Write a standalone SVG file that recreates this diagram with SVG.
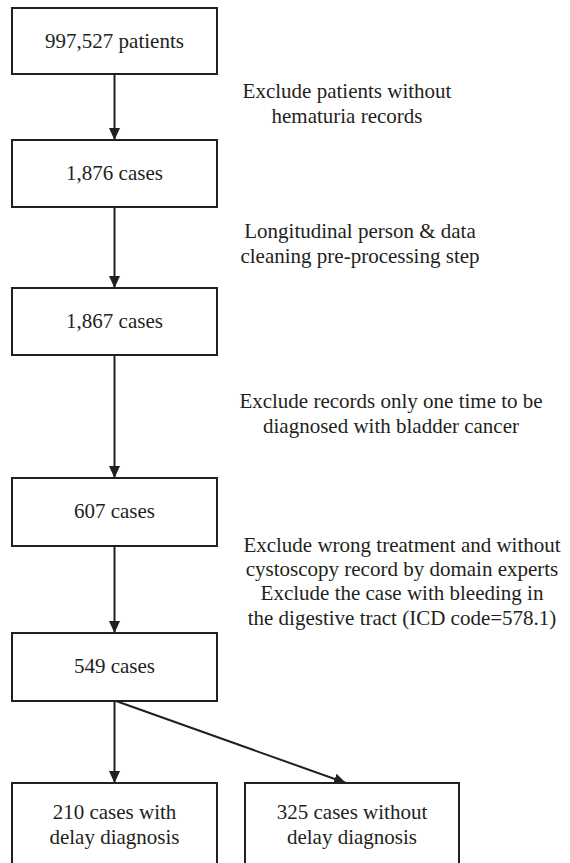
<svg xmlns="http://www.w3.org/2000/svg" width="570" height="863" viewBox="0 0 570 863">
<style>
.box{fill:#fff;stroke:#231f20;stroke-width:2}
.t{font-family:"Liberation Serif","Times New Roman",serif;font-size:21px;fill:#231f20;text-anchor:middle}
.c{stroke:#231f20;stroke-width:2;fill:none}
</style>
<defs>
<marker id="ah" markerWidth="12" markerHeight="13" viewBox="0 0 13 12" refX="13" refY="6" orient="auto" markerUnits="userSpaceOnUse">
<path d="M0,0 L13,6 L0,12 Z" fill="#231f20"/>
</marker>
</defs>
<rect width="570" height="863" fill="#fff"/>
<g id="connectors">
<line class="c" x1="114.5" y1="74" x2="114.5" y2="140" marker-end="url(#ah)"/>
<line class="c" x1="114.5" y1="207" x2="114.5" y2="288" marker-end="url(#ah)"/>
<line class="c" x1="114.5" y1="355" x2="114.5" y2="478" marker-end="url(#ah)"/>
<line class="c" x1="114.5" y1="546" x2="114.5" y2="633" marker-end="url(#ah)"/>
<line class="c" x1="114.5" y1="701" x2="114.5" y2="783" marker-end="url(#ah)"/>
<line class="c" x1="116" y1="701" x2="346" y2="783" marker-end="url(#ah)"/>
</g>
<g id="n1"><rect class="box" x="12" y="8" width="205" height="66"/><text class="t" x="114.5" y="48">997,527 patients</text></g>
<g id="n2"><rect class="box" x="12" y="140" width="205" height="67"/><text class="t" x="114.5" y="180">1,876 cases</text></g>
<g id="n3"><rect class="box" x="12" y="288" width="205" height="67"/><text class="t" x="114.5" y="328">1,867 cases</text></g>
<g id="n4"><rect class="box" x="12" y="478" width="205" height="68"/><text class="t" x="114.5" y="518">607 cases</text></g>
<g id="n5"><rect class="box" x="12" y="633" width="205" height="68"/><text class="t" x="114.5" y="673">549 cases</text></g>
<g id="n6"><rect class="box" x="12" y="783" width="205" height="95"/><text class="t" x="114.5" y="819">210 cases with</text><text class="t" x="114.5" y="844">delay diagnosis</text></g>
<g id="n7"><rect class="box" x="245" y="783" width="214" height="95"/><text class="t" x="352" y="819">325 cases without</text><text class="t" x="352" y="844">delay diagnosis</text></g>
<g id="l1"><text class="t" x="347" y="98">Exclude patients without</text><text class="t" x="347" y="123">hematuria records</text></g>
<g id="l2"><text class="t" x="360" y="238">Longitudinal person &amp; data</text><text class="t" x="360" y="263">cleaning pre-processing step</text></g>
<g id="l3"><text class="t" x="391" y="408">Exclude records only one time to be</text><text class="t" x="391" y="433">diagnosed with bladder cancer</text></g>
<g id="l4"><text class="t" x="402" y="552">Exclude wrong treatment and without</text><text class="t" x="402" y="576">cystoscopy record by domain experts</text><text class="t" x="402" y="600">Exclude the case with bleeding in</text><text class="t" x="402" y="625">the digestive tract (ICD code=578.1)</text></g>
</svg>
